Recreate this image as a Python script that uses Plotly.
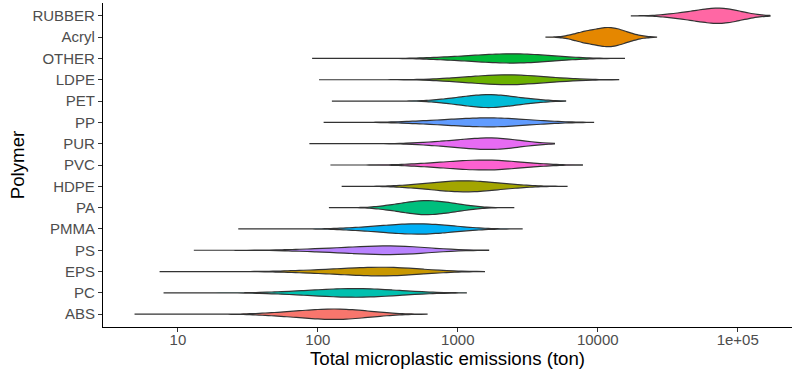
import numpy as np
import plotly.graph_objects as go

# Categories (bottom to top)
polymers = ["ABS", "PC", "EPS", "PS", "PMMA", "PA", "HDPE", "PVC",
            "PUR", "PP", "PET", "LDPE", "OTHER", "Acryl", "RUBBER"]

# Bulk emission samples (ton)
emis_RUBBER = [32400, 40700, 45700, 50100, 55000, 58900, 63100, 67600,
               70800, 74100, 77600, 83200, 87100, 93300, 102000, 120000]
emis_Acryl = [6920, 7760, 8130, 8710, 9550, 10200, 10700, 11200,
              11700, 12300, 12600, 13200, 13800, 14800, 15800, 18200]
emis_OTHER = [741, 1020, 1260, 1450, 1620, 1820, 2040, 2240,
              2450, 2690, 2880, 3160, 3550, 3980, 4680, 6310]
emis_LDPE = [813, 1100, 1290, 1480, 1620, 1820, 1950, 2140,
             2340, 2570, 2750, 3090, 3390, 3890, 4570, 6170]
emis_PET = [776, 955, 1100, 1200, 1320, 1410, 1510, 1620,
            1700, 1820, 1950, 2090, 2290, 2510, 2880, 3630]
emis_PP = [479, 676, 832, 955, 1100, 1230, 1350, 1510,
           1660, 1820, 1950, 2190, 2400, 2750, 3240, 4370]
emis_PUR = [575, 776, 912, 1050, 1150, 1290, 1380, 1510,
            1620, 1740, 1860, 2000, 2140, 2340, 2630, 3240]
emis_PVC = [513, 692, 832, 955, 1070, 1170, 1290, 1410,
            1550, 1660, 1820, 2000, 2190, 2450, 2820, 3720]
emis_HDPE = [457, 589, 692, 776, 851, 933, 1000, 1070,
             1170, 1260, 1350, 1480, 1620, 1820, 2140, 2750]
emis_PA = [302, 372, 417, 447, 490, 525, 550, 589,
           617, 661, 708, 759, 813, 891, 1000, 1200]
emis_PMMA = [178, 240, 288, 324, 363, 398, 437, 479,
             525, 562, 603, 661, 724, 813, 933, 1200]
emis_PS = [76, 112, 141, 166, 191, 219, 245, 275,
           309, 331, 363, 398, 437, 490, 575, 759]
emis_EPS = [69, 102, 129, 151, 174, 200, 224, 251,
            275, 302, 324, 355, 398, 447, 525, 708]
emis_PC = [54, 76, 93, 107, 123, 138, 151, 170,
           186, 204, 224, 251, 282, 316, 380, 525]
emis_ABS = [45, 60, 72, 81, 91, 100, 110, 120,
            132, 141, 151, 166, 182, 200, 229, 295]

# Observed minimum / maximum emissions (ton), same order as polymers
emis_min = [4.9, 7.9, 7.4, 13, 27, 120, 148, 123, 87, 110, 126, 102, 91, 4270, 17400]
emis_max = [603, 1150, 1550, 1660, 2880, 2510, 6030, 7760, 4900, 9330, 5890, 14100,
            15500, 26300, 170000]

tick_values = [10, 100, 1000, 10000, 100000]
tick_labels = ["10", "100", "1000", "10000", "1e+05"]

samples = {
    "ABS": emis_ABS, "PC": emis_PC, "EPS": emis_EPS, "PS": emis_PS,
    "PMMA": emis_PMMA, "PA": emis_PA, "HDPE": emis_HDPE, "PVC": emis_PVC,
    "PUR": emis_PUR, "PP": emis_PP, "PET": emis_PET, "LDPE": emis_LDPE,
    "OTHER": emis_OTHER, "Acryl": emis_Acryl, "RUBBER": emis_RUBBER,
}

colors = {
    "ABS": "#F8766D", "Acryl": "#E58700", "EPS": "#C99800", "HDPE": "#A3A500",
    "LDPE": "#6BB100", "OTHER": "#00BA38", "PA": "#00BF7D", "PC": "#00C0AF",
    "PET": "#00BCD8", "PMMA": "#00B0F6", "PP": "#619CFF", "PS": "#B983FF",
    "PUR": "#E76BF3", "PVC": "#FD61D1", "RUBBER": "#FF67A4",
}

fig = go.Figure()
for i, p in enumerate(polymers):
    vals = np.log10(np.array(samples[p], dtype=float))
    span = [float(np.log10(emis_min[i])), float(np.log10(emis_max[i]))]
    fig.add_trace(go.Violin(
        x=vals, y=[p] * len(vals), orientation="h", name=p,
        fillcolor=colors[p], line=dict(color="#333333", width=1.2),
        opacity=1, points=False, spanmode="manual", span=span,
        scalegroup="all", scalemode="width", side="both",
        box=dict(visible=False), meanline=dict(visible=False),
        showlegend=False, hoverinfo="skip",
    ))

font_fam = "Liberation Sans, Arial, sans-serif"
fig.update_layout(
    width=792, height=374,
    margin=dict(l=103, r=0, t=3, b=47),
    paper_bgcolor="white", plot_bgcolor="white",
    violinmode="overlay", violingap=0.1, violingroupgap=0,
    font=dict(family=font_fam, size=15, color="#4D4D4D"),
    xaxis=dict(
        range=[0.465, 5.388], tickvals=np.log10(tick_values).tolist(),
        ticktext=tick_labels, showgrid=False, zeroline=False,
        showline=True, linecolor="black", linewidth=1.2,
        ticks="outside", ticklen=4, tickwidth=1.1, tickcolor="#333333",
        tickfont=dict(size=15, color="#4D4D4D"), ticklabelstandoff=-5,
        title=dict(text="Total microplastic emissions (ton)",
                   font=dict(size=18.7, color="black"), standoff=0),
        automargin=False,
    ),
    yaxis=dict(
        type="category", categoryorder="array", categoryarray=polymers,
        range=[-0.6, 14.6], showgrid=False, zeroline=False,
        showline=True, linecolor="black", linewidth=1.2,
        ticks="outside", ticklen=4, tickwidth=1.1, tickcolor="#333333",
        tickfont=dict(size=15, color="#4D4D4D"),
        title=dict(text="Polymer", font=dict(size=18.7, color="black"),
                   standoff=2),
        automargin=False,
    ),
)

fig.write_html("out.html")
